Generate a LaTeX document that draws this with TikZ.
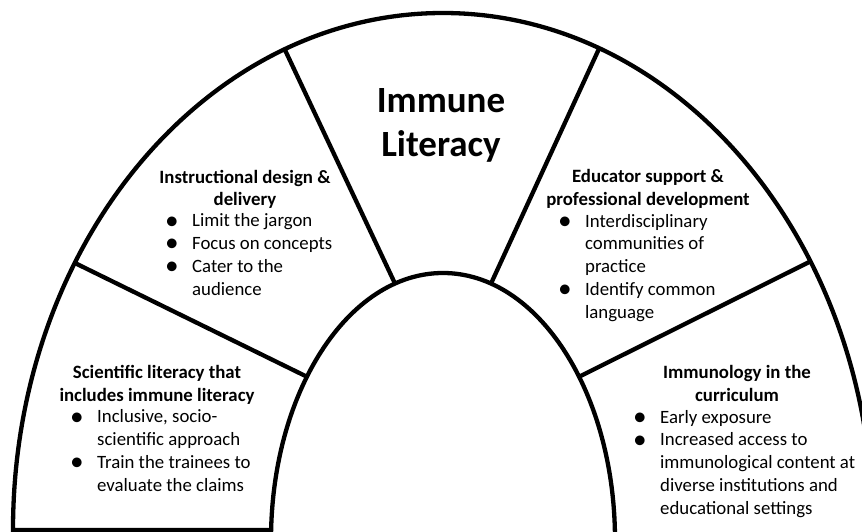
\documentclass[tikz,border=0pt]{standalone}
\usepackage{graphicx}
\usepackage{fontspec}
\setmainfont{Carlito}
\newcommand*\bul{\makebox[27pt][l]{\smash{\raisebox{-2.3pt}{\scalebox{1.45}{\textbullet}}}}}
\newcommand*\ind{\hspace*{27pt}}
\tikzset{
  heading/.style={font=\fontsize{18.8}{22.7}\selectfont\bfseries, align=center, inner sep=0pt, anchor=base},
  items/.style={font=\fontsize{18.8}{22.7}\selectfont, align=left, inner sep=0pt, anchor=base west},
  ttl/.style={font=\fontsize{37}{44}\selectfont\bfseries, align=center, inner sep=0pt, anchor=base},
}
\begin{document}
\begin{tikzpicture}[x=1pt,y=1pt,line width=4.3pt]
    \useasboundingbox (0,0) rectangle (862,531);
    % outer arch (open at the bottom right) and inner arch
    \draw[line join=miter] (271,1) -- (13,1) arc[start angle=180,end angle=0,x radius=430,y radius=517];
    \draw (271,-9) arc[start angle=180,end angle=0,x radius=172,y radius=267];

    % points where the dividers meet the arches
    \coordinate (o1) at ([shift={(443,1)}]148.9:430 and 517);
    \coordinate (o2) at ([shift={(443,1)}]111.6:430 and 517);
    \coordinate (o3) at ([shift={(443,1)}]68.7:430 and 517);
    \coordinate (o4) at ([shift={(443,1)}]31.3:430 and 517);
    \coordinate (i1) at ([shift={(443,-9)}]142.3:172 and 267);
    \coordinate (i2) at ([shift={(443,-9)}]106.2:172 and 267);
    \coordinate (i3) at ([shift={(443,-9)}]73.8:172 and 267);
    \coordinate (i4) at ([shift={(443,-9)}]37.7:172 and 267);
    \draw (o1) -- (i1);
    \draw (o2) -- (i2);
    \draw (o3) -- (i3);
    \draw (o4) -- (i4);

    % anchors sit on the last line of each text
    \node[ttl] (title) at (441,374) {Immune\\Literacy};

    \node[heading] (design) at (245,325) {Instructional design \&\\delivery};
    \node[items] (designlist) at (163,236) {\bul Limit the jargon\\\bul Focus on concepts\\\bul Cater to the\\\ind audience};

    \node[heading] (educator) at (648,325.5) {Educator support \&\\professional development};
    \node[items] (educatorlist) at (556,213) {\bul Interdisciplinary\\\ind communities of\\\ind practice\\\bul Identify common\\\ind language};

    \node[heading] (scilit) at (157,130) {Scientific literacy that\\includes immune literacy};
    \node[items] (scilitlist) at (68,40) {\bul Inclusive, socio-\\\ind scientific approach\\\bul Train the trainees to\\\ind evaluate the claims};

    \node[heading] (curric) at (737,130) {Immunology in the\\curriculum};
    \node[items] (curriclist) at (631,17) {\bul Early exposure\\\bul Increased access to\\\ind immunological content at\\\ind diverse institutions and\\\ind educational settings};
\end{tikzpicture}
\end{document}
